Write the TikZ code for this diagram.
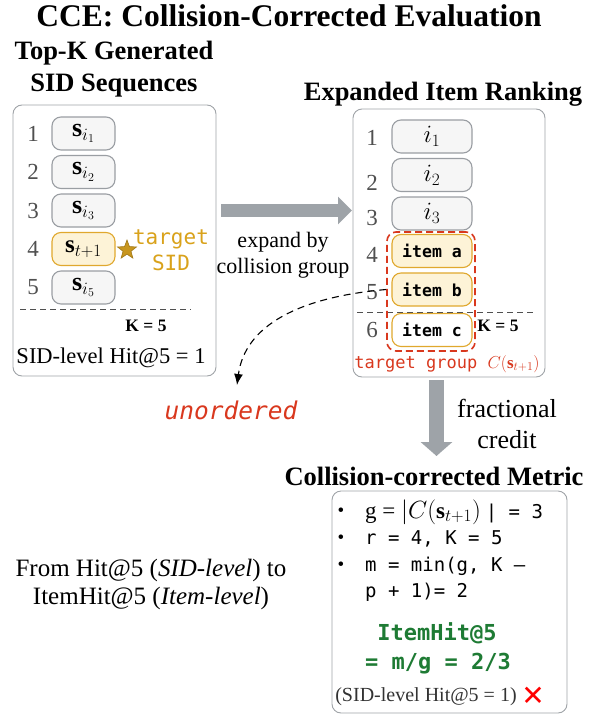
\documentclass[tikz,border=0pt]{standalone}
\usepackage{fontspec}
\setmainfont{Liberation Serif}
\setmonofont{DejaVu Sans Mono}
\newfontfamily\djv{DejaVu Sans}
\usetikzlibrary{shapes.geometric,arrows.meta}
\definecolor{pillgray}{HTML}{9A9EA3}
\definecolor{pillfill}{HTML}{F6F6F6}
\definecolor{boxgray}{HTML}{A0A4A8}
\definecolor{gold}{HTML}{E0A82E}
\definecolor{goldfill}{HTML}{FDF3D7}
\definecolor{goldtxt}{HTML}{D9A21B}
\definecolor{starfill}{HTML}{C8961E}
\definecolor{redc}{HTML}{D9381E}
\definecolor{greenc}{HTML}{1E7B34}
\definecolor{arrowgray}{HTML}{9EA3A8}
\definecolor{numgray}{HTML}{505050}
\tikzset{
  panel/.style={draw=boxgray, line width=0.9pt, rounded corners=9pt, fill=white, inner sep=0pt},
  pill/.style={draw=pillgray, line width=1.1pt, fill=pillfill, rounded corners=9pt, minimum width=63pt, minimum height=33pt, inner sep=0pt, font=\fontsize{26pt}{28pt}\selectfont},
  rpill/.style={pill, minimum width=80pt, font=\fontsize{24pt}{28pt}\selectfont},
  gpill/.style={draw=gold, line width=1.1pt, fill=goldfill, rounded corners=9pt, minimum height=33pt, inner sep=0pt},
  num/.style={text=numgray, font=\fontsize{23pt}{26pt}\selectfont, inner sep=0pt},
  heading/.style={font=\fontsize{26.5pt}{32pt}\selectfont\bfseries, inner sep=0pt, align=center},
  itemtxt/.style={font=\fontsize{16.5pt}{19pt}\selectfont\ttfamily\bfseries},
  kfive/.style={font=\fontsize{17.5pt}{20pt}\selectfont\bfseries, inner sep=0pt},
  bigarrow/.style={line width=13pt, arrowgray, -{Triangle[length=14pt,width=27pt]}},
  kline/.style={dashed, dash pattern=on 6pt off 4pt, draw=numgray, line width=0.9pt},
  codeline/.style={anchor=west, inner sep=0pt, font=\fontsize{19pt}{23pt}\selectfont\ttfamily},
}
\begin{document}
\begin{tikzpicture}[x=1pt,y=-1pt]
\useasboundingbox (0,0) rectangle (596,715);

% title
\node[font=\fontsize{31.5pt}{36pt}\selectfont\bfseries, inner sep=0pt] (title) at (289,16) {CCE: Collision-Corrected Evaluation};
\node[heading] (lhead) at (114,69) {Top-K Generated\\SID Sequences};
\node[heading] (rhead) at (443,94) {Expanded Item Ranking};

% left panel
\node[panel, minimum width=203pt, minimum height=271pt] (lbox) at (114.5,240.5) {};
\foreach \n/\y/\sub in {1/133.5/{i_1},2/172/{i_2},3/210.5/{i_3},5/287.5/{i_5}}{
  \node[num] (ln\n) at (33,\y) {\n};
  \node[pill] (lp\n) at (83.5,\y) {$\mathbf{s}_{\sub}$};
}
\node[num] (ln4) at (33,249) {4};
\node[gpill, minimum width=63pt, font=\fontsize{25pt}{28pt}\selectfont] (lp4) at (83.5,249) {$\mathbf{s}_{t+1}$};
\node[star, star points=5, star point ratio=2.4, draw=starfill!80!black, fill=starfill, minimum size=20pt, inner sep=0pt, line width=0.6pt] (star) at (127,250) {};
\node[text=goldtxt, font=\fontsize{21pt}{26pt}\selectfont\ttfamily, align=center, inner sep=0pt] (tsid) at (171,250) {target\\SID};
\coordinate (lk1) at (20,309);
\coordinate (lk2) at (191,309);
\draw[kline] (lk1) -- (lk2);
\node[kfive] (lK) at (146,326) {K = 5};
\node[font=\fontsize{22.5pt}{26pt}\selectfont, inner sep=0pt] (lhit) at (111,358) {SID-level Hit@5 = 1};

% right panel
\node[panel, minimum width=192pt, minimum height=268pt] (rbox) at (449,243) {};
\foreach \n/\y/\ny/\sub in {1/136.5/138/{i_1},2/175/183/{i_2},3/213.5/218/{i_3}}{
  \node[num] (rn\n) at (372,\ny) {\n};
  \node[rpill] (rp\n) at (432,\y) {$\sub$};
}
\node[num] (rn4) at (372,255) {4};
\node[num] (rn5) at (372,292) {5};
\node[num] (rn6) at (372,330) {6};
\node[gpill, minimum width=80pt, itemtxt] (ia) at (432,251) {item a};
\node[gpill, minimum width=80pt, itemtxt] (ib) at (432,289.5) {item b};
\node[gpill, fill=white, minimum width=80pt, itemtxt] (ic) at (432,330) {item c};
\coordinate (rk1) at (357,312);
\coordinate (rk2) at (535,312);
\draw[kline] (rk1) -- (rk2);
\node[kfive] (rK) at (498,326) {K = 5};
\node[draw=redc, dashed, dash pattern=on 7pt off 4pt, line width=1.6pt, rounded corners=9pt, minimum width=88pt, minimum height=119pt, inner sep=0pt] (grp) at (431,291.5) {};
\node[text=redc, font=\fontsize{17pt}{20pt}\selectfont\ttfamily, inner sep=0pt] (glabel) at (447,364) {target group $C(\mathbf{s}_{t+1})$};

% big horizontal arrow
\coordinate (ha1) at (221,210.5);
\coordinate (ha2) at (352,210.5);
\draw[bigarrow] (ha1) -- (ha2);
\node[font=\fontsize{22pt}{26pt}\selectfont, align=center, inner sep=0pt] (expand) at (283,255) {expand by\\collision group};

% dashed curved arrow
\coordinate (uend) at (237,385);
\draw[dashed, dash pattern=on 7pt off 5pt, line width=1.1pt, -{Latex[length=11pt,width=9pt]}] (grp.west |- ib.west) .. controls (300,297) and (245,325) .. (uend);
\node[text=redc, font=\fontsize{24.5pt}{28pt}\selectfont\ttfamily\itshape, inner sep=0pt] (unord) at (231,410) {unordered};

% down arrow
\coordinate (da1) at (436.5,380);
\coordinate (da2) at (436.5,456);
\draw[bigarrow, line width=15pt, -{Triangle[length=14pt,width=31pt]}] (da1) -- (da2);
\node[font=\fontsize{26pt}{31pt}\selectfont, align=center, inner sep=0pt] (frac) at (507,424) {fractional\\credit};

% bottom panel
\node[heading] (mhead) at (434,476) {Collision-corrected Metric};
\node[panel, minimum width=235pt, minimum height=222pt] (mbox) at (449.5,602) {};
\foreach \y [count=\i] in {512,539,566}{
  \node[font=\fontsize{19pt}{23pt}\selectfont, inner sep=0pt] (b\i) at (341,\y) {•};
}
\node[codeline] (c1) at (365,512) {{\fontsize{23pt}{25pt}\selectfont\rmfamily g = $|C(\mathbf{s}_{t+1})$}\kern5pt| = 3};
\node[codeline] (c2) at (365,539) {r = 4, K = 5};
\node[codeline] (c3) at (365,566) {m = min(g, K –};
\node[codeline] (c4) at (365,592) {p + 1)= 2};
\node[text=greenc, font=\fontsize{22pt}{26pt}\selectfont\ttfamily\bfseries, inner sep=0pt] (ih1) at (437,633) {ItemHit@5};
\node[text=greenc, font=\fontsize{22pt}{26pt}\selectfont\ttfamily\bfseries, inner sep=0pt] (ih2) at (438,664) {= m/g = 2/3};
\node[font=\fontsize{20pt}{23pt}\selectfont, inner sep=0pt, text=black!80] (sidnote) at (426,697) {(SID-level Hit@5 = 1)};
\node[font=\fontsize{28pt}{30pt}\selectfont\djv, text=red, inner sep=0pt] (xmark) at (533,696) {✕};

% left caption
\node[font=\fontsize{25pt}{28pt}\selectfont, align=center, inner sep=0pt] (from) at (151,584) {From Hit@5 (\textit{SID-level}) to\\ItemHit@5 (\textit{Item-level})};
\end{tikzpicture}
\end{document}
